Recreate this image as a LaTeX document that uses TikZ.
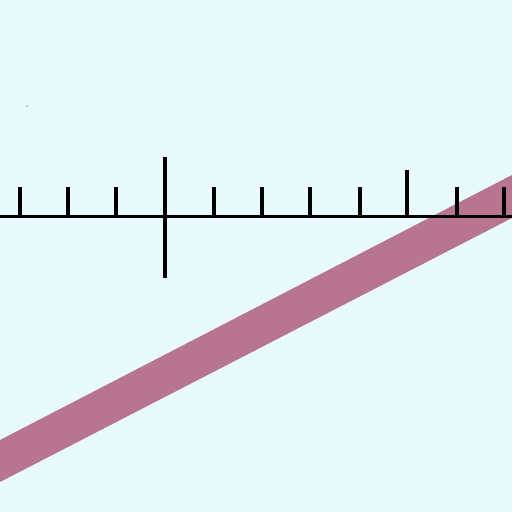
\documentclass[tikz,border=0pt]{standalone}
\definecolor{bgc}{HTML}{E8FAFC}
\definecolor{bandc}{HTML}{B8758F}
\tikzset{
  axisline/.style={draw=black,line width=3pt},
  tickmark/.style={draw=black,line width=3.5pt},
  band/.style={fill=bandc}
}
\begin{document}
\begin{tikzpicture}[x=1pt,y=-1pt]
\fill[bgc] (0,0) rectangle (512,512);
\useasboundingbox (0,0) rectangle (512,512);
% band
\fill[band] (0,440) -- (512,175) -- (512,218) -- (0,482) -- cycle;
% axis
\draw[axisline] (0,216) -- (512,216);
\foreach \x in {20,68,116,214,262,310,360,457,504}
  \draw[tickmark] (\x,216) -- (\x,187);
\draw[tickmark] (407,216) -- (407,170);
\draw[line width=4.5pt] (165,157) -- (165,278);
% small speck
\fill[gray!60] (27,106) circle (1.2);
\end{tikzpicture}
\end{document}
